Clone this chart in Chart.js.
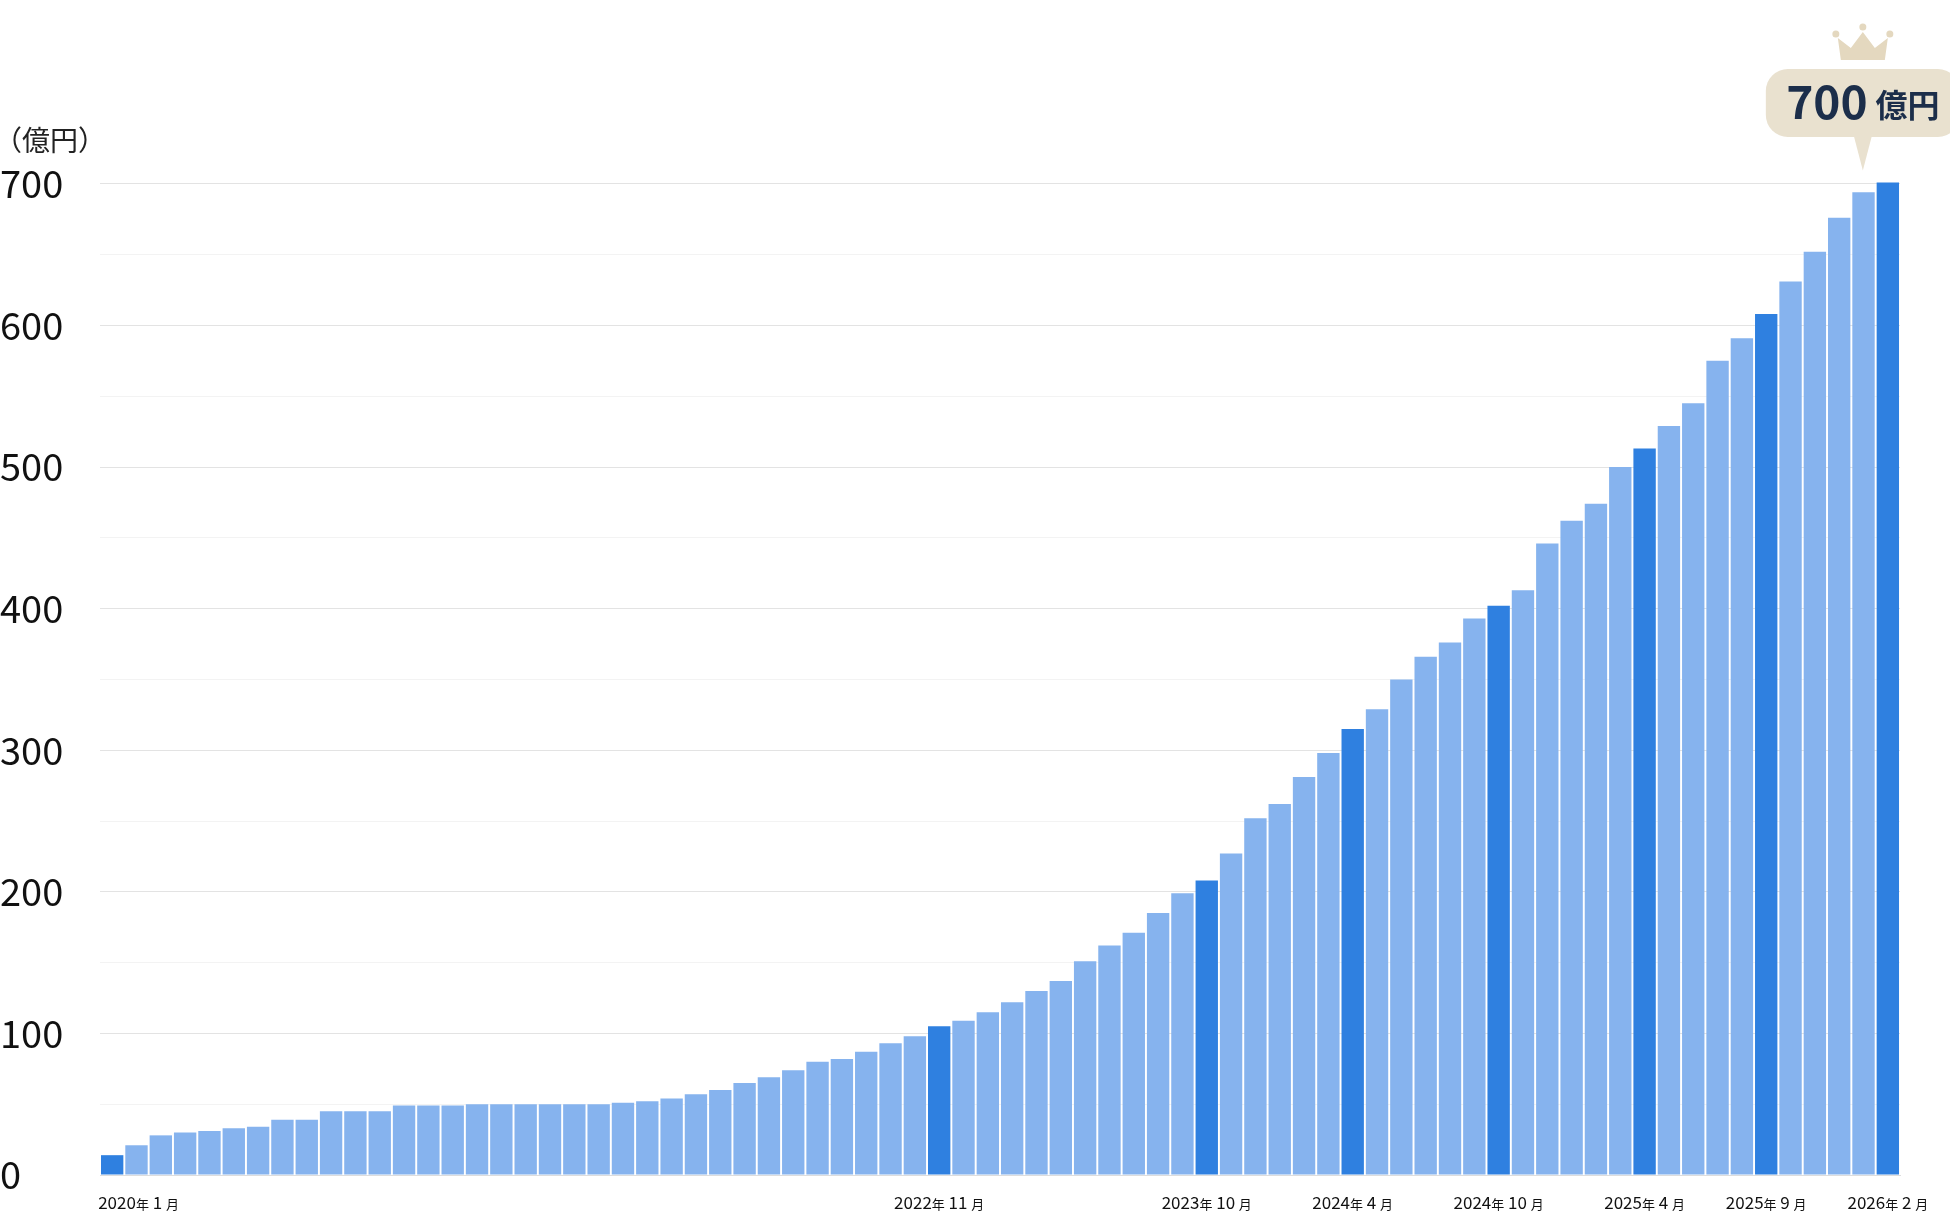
<!DOCTYPE html>
<html><head><meta charset="utf-8">
<script src="https://cdn.jsdelivr.net/npm/chart.js@4"></script>
<style>html,body{margin:0;padding:0;background:#fff}#w{width:1950px;height:1220px}</style>
</head><body><div id="w"><canvas id="c"></canvas></div>
<script>
const months = [];
for (let y = 2020; y <= 2026; y++) for (let m = 1; m <= 12; m++) { if (y === 2026 && m > 2) break; months.push([y, m]); }
const values = [14,21,28,30,31,33,34,39,39,45,45,45,49,49,49,50,50,50,50,50,50,51,52,54,57,60,65,69,74,80,82,87,93,98,105,109,115,122,130,137,151,162,171,185,199,208,227,252,262,281,298,315,329,350,366,376,393,402,413,446,462,474,500,513,529,545,575,591,608,631,652,676,694,701];
const highlighted = [0,34,45,51,57,63,68,73];
const yTicks = [0,100,200,300,400,500,600,700];
const unitLabel = '（億円）';
const calloutText = ['700', '億円'];
const FONT = '"Noto Sans CJK JP", "Noto Sans", sans-serif';
const colors = values.map((v,i) => highlighted.includes(i) ? '#2f80e0' : '#86b3ee');

const overlay = {
  id: 'overlay',
  afterDraw(chart) {
    const ctx = chart.ctx, x = chart.scales.x, y = chart.scales.y;
    ctx.save();
    // unit label
    ctx.fillStyle = '#222'; ctx.font = '28px ' + FONT; ctx.textBaseline = 'middle'; ctx.textAlign = 'left';
    ctx.fillText(unitLabel, -6, 140);
    // x labels
    highlighted.forEach(i => {
      const [yy, mm] = months[i];
      const px = x.getPixelForValue(i);
      const parts = [[String(yy), 17], ['年', 13], [' ' + mm + ' ', 17], ['月', 13]];
      let w = 0;
      parts.forEach(p => { ctx.font = p[1] + 'px ' + FONT; w += ctx.measureText(p[0]).width; });
      let sx = i === 0 ? px - 14 : px - w / 2;
      ctx.fillStyle = '#111'; ctx.textBaseline = 'alphabetic';
      parts.forEach(p => { ctx.font = p[1] + 'px ' + FONT; ctx.fillText(p[0], sx, 1209); sx += ctx.measureText(p[0]).width; });
    });
    // callout
    const li = values.length - 1;
    const cx = x.getPixelForValue(li) - 25;
    const top = y.getPixelForValue(values[li]);
    const bw = 194, bh = 68, by = 69;
    ctx.fillStyle = '#e9e1cf';
    ctx.beginPath(); ctx.roundRect(cx - bw / 2, by, bw, bh, 22); ctx.fill();
    ctx.beginPath(); ctx.moveTo(cx - 9, by + bh - 1); ctx.lineTo(cx + 9, by + bh - 1); ctx.lineTo(cx, top - 12); ctx.closePath(); ctx.fill();
    ctx.fillStyle = '#1c2e4a'; ctx.textBaseline = 'alphabetic';
    ctx.font = 'bold 46px ' + FONT; const w1 = ctx.measureText(calloutText[0]).width;
    ctx.font = 'bold 32px ' + FONT; const w2 = ctx.measureText(calloutText[1]).width;
    let sx = cx - (w1 + 8 + w2) / 2;
    ctx.font = 'bold 46px ' + FONT; ctx.fillText(calloutText[0], sx, by + 50);
    ctx.font = 'bold 32px ' + FONT; ctx.fillText(calloutText[1], sx + w1 + 8, by + 48);
    // crown
    ctx.fillStyle = '#e4d8bf';
    const cy = 60;
    ctx.beginPath();
    ctx.moveTo(cx - 22, cy); ctx.lineTo(cx - 25, cy - 22); ctx.lineTo(cx - 12, cy - 12); ctx.lineTo(cx, cy - 28);
    ctx.lineTo(cx + 12, cy - 12); ctx.lineTo(cx + 25, cy - 22); ctx.lineTo(cx + 22, cy); ctx.closePath(); ctx.fill();
    [[-27, -26], [0, -33], [27, -26]].forEach(([dx, dy]) => { ctx.beginPath(); ctx.arc(cx + dx, cy + dy, 3.5, 0, Math.PI * 2); ctx.fill(); });
    ctx.restore();
  }
};

new Chart(document.getElementById('c'), {
  type: 'bar',
  data: { labels: months.map(m => m[0] + '年' + m[1] + '月'), datasets: [{ data: values, backgroundColor: colors, categoryPercentage: 1, barPercentage: 0.92 }] },
  options: {
    responsive: true, maintainAspectRatio: false, animation: false,
    layout: { padding: { top: 181, bottom: 37, right: 50, left: 0 } },
    plugins: { legend: { display: false }, tooltip: { enabled: false } },
    scales: {
      x: { ticks: { display: false }, grid: { display: false }, border: { display: true, color: '#ddd' } },
      y: {
        min: 0, max: 702,
        afterBuildTicks: s => { s.ticks = []; for (let v = 0; v <= 700; v += 50) s.ticks.push({ value: v }); },
        afterFit: s => { s.width = 100; },
        border: { display: false },
        grid: { color: c => (c.tick && c.tick.value % 100 === 0) ? '#e3e3e3' : '#f3f3f3', drawTicks: false },
        ticks: { padding: 0, crossAlign: 'far', color: '#111', font: { family: FONT, size: 38 },
          callback: v => yTicks.includes(v) ? String(v) : '' }
      }
    }
  },
  plugins: [overlay]
});
</script></body></html>
